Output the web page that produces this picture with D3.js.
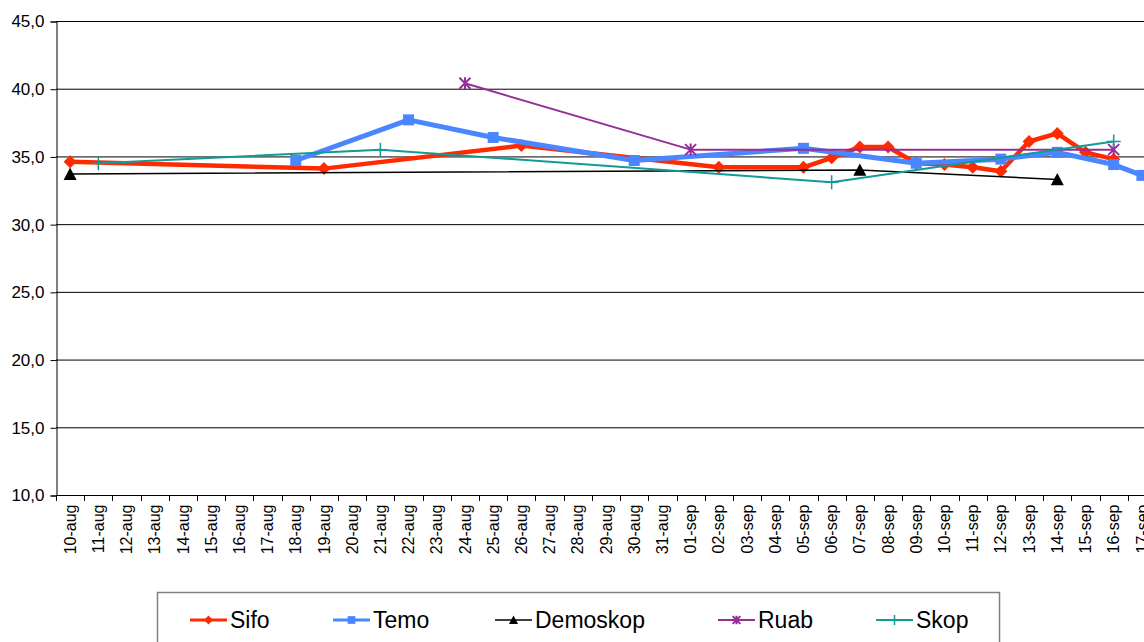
<!DOCTYPE html>
<html>
<head>
<meta charset="utf-8">
<script src="https://cdn.jsdelivr.net/npm/d3@7/dist/d3.min.js"></script>
<style>
  body { margin: 0; background: #fff; }
  svg { display: block; font-family: "Liberation Sans", Arial, sans-serif; }
</style>
</head>
<body>
<svg id="chart"></svg>
<script>
// categories (days)
var days = ["10-aug","11-aug","12-aug","13-aug","14-aug","15-aug","16-aug","17-aug","18-aug","19-aug",
  "20-aug","21-aug","22-aug","23-aug","24-aug","25-aug","26-aug","27-aug","28-aug","29-aug","30-aug",
  "31-aug","01-sep","02-sep","03-sep","04-sep","05-sep","06-sep","07-sep","08-sep","09-sep","10-sep",
  "11-sep","12-sep","13-sep","14-sep","15-sep","16-sep","17-sep"];

var yTicks = [10, 15, 20, 25, 30, 35, 40, 45];

// each series: [day, value]
var sifo = [["10-aug",34.6],["19-aug",34.1],["26-aug",35.8],["02-sep",34.2],["05-sep",34.2],
  ["06-sep",34.9],["07-sep",35.7],["08-sep",35.7],["09-sep",34.5],["10-sep",34.4],["11-sep",34.2],
  ["12-sep",33.9],["13-sep",36.1],["14-sep",36.7],["15-sep",35.3],["16-sep",34.8]];
var temo = [["18-aug",34.7],["22-aug",37.7],["25-aug",36.4],["30-aug",34.7],["05-sep",35.6],
  ["09-sep",34.5],["12-sep",34.8],["14-sep",35.3],["16-sep",34.4],["17-sep",33.6]];
var demoskop = [["10-aug",33.7],["07-sep",34.0],["14-sep",33.3]];
var ruab = [["24-aug",40.4],["01-sep",35.5],["16-sep",35.5]];
var skop = [["11-aug",34.5],["21-aug",35.5],["06-sep",33.1],["16-sep",36.1]];

var series = [
  {name: "Sifo", data: sifo, color: "#ff2a00", width: 4.5, marker: "diamond"},
  {name: "Temo", data: temo, color: "#4a86ff", width: 5, marker: "square"},
  {name: "Demoskop", data: demoskop, color: "#000000", width: 1.5, marker: "triangle"},
  {name: "Ruab", data: ruab, color: "#962d98", width: 2, marker: "star"},
  {name: "Skop", data: skop, color: "#129a96", width: 2, marker: "plus"}
];

var width = 1144, height = 642;
var svg = d3.select("#chart").attr("width", width).attr("height", height);

var plotLeft = 56, plotTop = 21, plotBottom = 495, plotRight = 1156;

var x = d3.scaleBand().domain(days).range([plotLeft, plotRight]);
var y = d3.scaleLinear().domain([10, 45]).range([plotBottom, plotTop]);

// gridlines
svg.append("g").selectAll("line").data(yTicks).enter().append("line")
  .attr("x1", plotLeft).attr("x2", plotRight)
  .attr("y1", d => y(d) + 0.5).attr("y2", d => y(d) + 0.5)
  .attr("stroke", "#000").attr("stroke-width", 1);

// y axis
var yAxis = svg.append("g").attr("transform", "translate(" + (plotLeft + 0.5) + ",0.5)")
  .call(d3.axisLeft(y).tickValues(yTicks).tickSize(6).tickPadding(6)
    .tickFormat(d => d3.format(".1f")(d).replace(".", ",")));
yAxis.select(".domain").attr("stroke", "#000");
yAxis.selectAll("text").attr("font-size", 17).attr("fill", "#000")
  .attr("font-family", "Liberation Sans, Arial, sans-serif");

// x axis
var xAxis = svg.append("g").attr("transform", "translate(0," + (plotBottom + 0.5) + ")")
  .call(d3.axisBottom(x).tickSize(0).tickPadding(0));
xAxis.select(".domain").remove();
xAxis.selectAll(".tick text")
  .attr("font-size", 16).attr("fill", "#000")
  .attr("font-family", "Liberation Sans, Arial, sans-serif")
  .attr("text-anchor", "end")
  .attr("transform", "translate(0,9) rotate(-90)")
  .attr("x", 0).attr("y", 0).attr("dy", "0.35em");
// tick marks at category boundaries
svg.append("g").selectAll("line").data(days).enter().append("line")
  .attr("x1", d => Math.round(x(d)) + 0.5).attr("x2", d => Math.round(x(d)) + 0.5)
  .attr("y1", plotBottom).attr("y2", plotBottom + 6)
  .attr("stroke", "#000");
svg.append("line").attr("x1", plotLeft).attr("x2", plotRight)
  .attr("y1", plotBottom + 0.5).attr("y2", plotBottom + 0.5).attr("stroke", "#000");

var cx = d => x(d[0]) + x.bandwidth() / 2;
var line = d3.line().x(cx).y(d => y(d[1]));

function drawMarker(g, type, color, px, py, s) {
  if (type === "diamond") {
    g.append("path").attr("d", "M" + px + "," + (py - s) + "L" + (px + s) + "," + py + "L" + px + "," + (py + s) + "L" + (px - s) + "," + py + "Z")
      .attr("fill", color);
  } else if (type === "square") {
    g.append("rect").attr("x", px - s).attr("y", py - s).attr("width", 2 * s).attr("height", 2 * s)
      .attr("fill", color);
  } else if (type === "triangle") {
    g.append("path").attr("d", "M" + px + "," + (py - s) + "L" + (px + s) + "," + (py + s * 0.9) + "L" + (px - s) + "," + (py + s * 0.9) + "Z")
      .attr("fill", color);
  } else if (type === "star") {
    g.append("path").attr("d", "M" + (px - s) + "," + (py - s) + "L" + (px + s) + "," + (py + s) +
      "M" + (px + s) + "," + (py - s) + "L" + (px - s) + "," + (py + s) +
      "M" + px + "," + (py - s * 1.1) + "L" + px + "," + (py + s * 1.1))
      .attr("stroke", color).attr("stroke-width", 2).attr("fill", "none");
  } else if (type === "plus") {
    g.append("path").attr("d", "M" + (px - s) + "," + py + "L" + (px + s) + "," + py +
      "M" + px + "," + (py - s) + "L" + px + "," + (py + s))
      .attr("stroke", color).attr("stroke-width", 1.5).attr("fill", "none");
  }
}

var markerSize = {diamond: 6.5, square: 5.5, triangle: 6.5, star: 5.5, plus: 7};

series.forEach(function (s) {
  var g = svg.append("g");
  g.append("path").datum(s.data).attr("d", line)
    .attr("fill", "none").attr("stroke", s.color).attr("stroke-width", s.width)
    .attr("stroke-linejoin", "round");
  s.data.forEach(function (d) {
    drawMarker(g, s.marker, s.color, cx(d), y(d[1]), markerSize[s.marker]);
  });
});

// legend
var legend = svg.append("g");
legend.append("rect").attr("x", 157.5).attr("y", 592.5).attr("width", 842).attr("height", 60)
  .attr("fill", "#fff").attr("stroke", "#808080").attr("stroke-width", 1.5);
var legX = [190, 333, 495, 718, 876];
series.forEach(function (s, i) {
  var lx = legX[i], ly = 620;
  legend.append("line").attr("x1", lx).attr("x2", lx + 37).attr("y1", ly).attr("y2", ly)
    .attr("stroke", s.color).attr("stroke-width", Math.min(s.width, 3));
  drawMarker(legend, s.marker, s.color, lx + 18.5, ly, markerSize[s.marker] * 0.7);
  legend.append("text").attr("x", lx + 40).attr("y", ly).attr("dy", "0.36em")
    .attr("font-size", 23).attr("fill", "#000").text(s.name);
});
</script>
</body>
</html>
